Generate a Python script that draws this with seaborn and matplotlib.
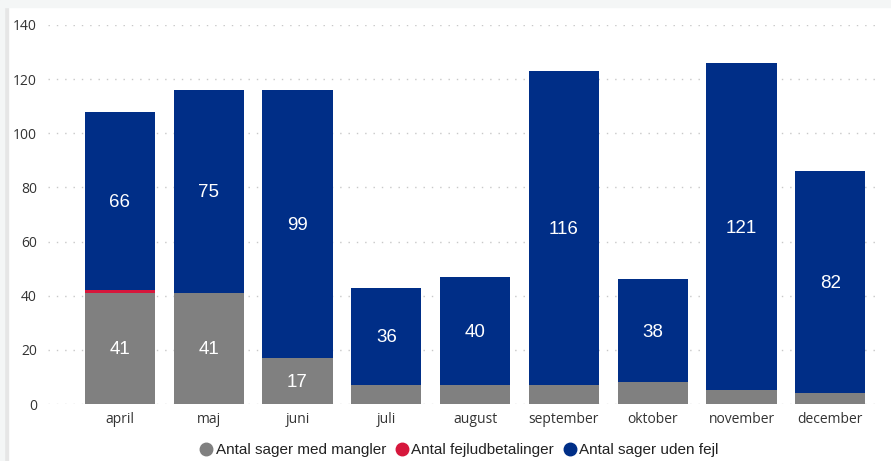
import numpy as np
import matplotlib
matplotlib.use("Agg")
import matplotlib.pyplot as plt
from matplotlib.lines import Line2D
from matplotlib.patches import Rectangle
import seaborn as sns

months = ["april", "maj", "juni", "juli", "august", "september", "oktober", "november", "december"]
mangler = [41, 41, 17, 7, 7, 7, 8, 5, 4]
fejludbetalinger = [1, 0, 0, 0, 0, 0, 0, 0, 0]
uden_fejl = [66, 75, 99, 36, 40, 116, 38, 121, 82]

grey = "#808080"
red = "#d6173c"
blue = "#002e87"

sns.set_theme(style="white")
plt.rcParams["font.family"] = ["Liberation Sans", "DejaVu Sans"]

fig = plt.figure(figsize=(8.91, 4.61), dpi=100)
fig.patch.set_facecolor("white")
# light frame like the report canvas
fig.patches.append(Rectangle((0, 0), 8 / 891, 1, transform=fig.transFigure, color="#e6e6e6", zorder=0))
fig.patches.append(Rectangle((0, 0), 4 / 891, 1, transform=fig.transFigure, color="#f4f6f6", zorder=0))
fig.patches.append(Rectangle((0, 1 - 7 / 461), 1, 7 / 461, transform=fig.transFigure, color="#f4f6f6", zorder=0))

ax = fig.add_axes([48 / 891, (461 - 404) / 461, (880 - 48) / 891, (404 - 25) / 461])

bottom2 = np.array(mangler)
bottom3 = bottom2 + np.array(fejludbetalinger)
w = 0.79
sns.barplot(x=months, y=mangler, color=grey, ax=ax, width=w, saturation=1, linewidth=0)
sns.barplot(x=months, y=fejludbetalinger, bottom=bottom2, color=red, ax=ax, width=w, saturation=1, linewidth=0)
sns.barplot(x=months, y=uden_fejl, bottom=bottom3, color=blue, ax=ax, width=w, saturation=1, linewidth=0)

for i in range(len(months)):
    if mangler[i] >= 12:
        ax.text(i, mangler[i] / 2 - 0.5, str(mangler[i]), ha="center", va="center", color="white", fontsize=13.5)
    ax.text(i, bottom3[i] + uden_fejl[i] / 2 - 0.5, str(uden_fejl[i]), ha="center", va="center", color="white", fontsize=13.5)

ax.set_xlim(-0.81, 8.56)
ax.set_ylim(0, 140)
ax.set_yticks(range(0, 141, 20))
ax.yaxis.grid(True, linestyle=(0, (1, 5)), color="#c8c8c8", linewidth=1)
ax.set_axisbelow(True)
for s in ax.spines.values():
    s.set_visible(False)
ax.tick_params(axis="both", length=0, labelsize=10, labelcolor="#333333")
ax.tick_params(axis="y", pad=8)
ax.tick_params(axis="x", pad=6)
for lab in ax.get_xticklabels() + ax.get_yticklabels():
    lab.set_family(["Open Sans", "DejaVu Sans"])
ax.set_xlabel("")
ax.set_ylabel("")

handles = [Line2D([], [], marker="o", linestyle="", markersize=9, color=c) for c in (grey, red, blue)]
leg = fig.legend(handles, ["Antal sager med mangler", "Antal fejludbetalinger", "Antal sager uden fejl"],
                 loc="center", bbox_to_anchor=(0.513, 0.024), ncol=3, frameon=False, fontsize=11,
                 handletextpad=-0.1, columnspacing=0.35, handlelength=1.4, borderaxespad=0)
for t in leg.get_texts():
    t.set_color("#222222")

fig.savefig("out.png", dpi=100)
